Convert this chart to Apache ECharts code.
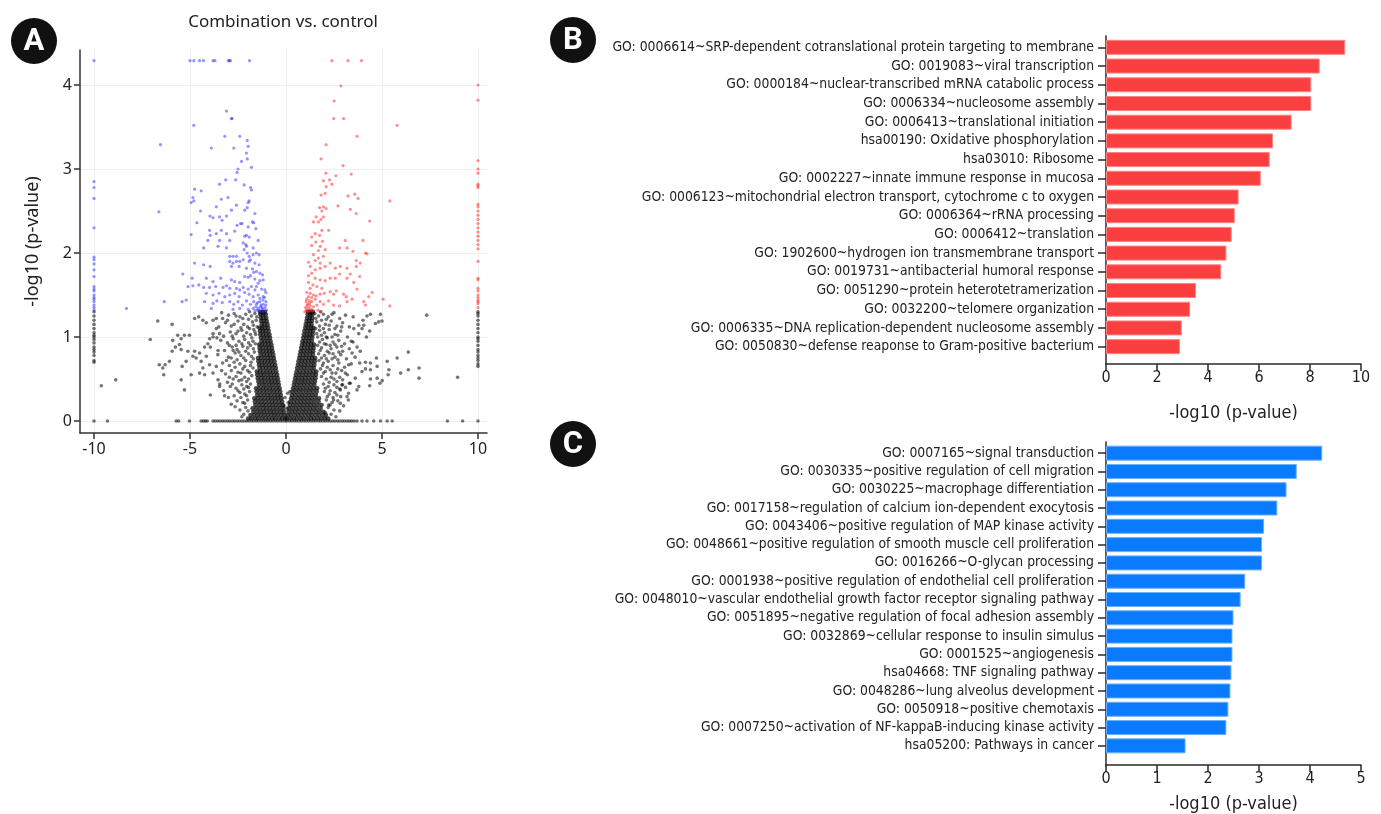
<!DOCTYPE html>
<html><head><meta charset="utf-8">
<script src="https://cdn.jsdelivr.net/npm/echarts@6/dist/echarts.min.js"></script>
<style>html,body{margin:0;padding:0;background:#fff}#c{width:1381px;height:814px}</style>
</head><body><div id="c"></div>
<script>
// ---------- Panel A: volcano plot ----------
const volcanoTitle = 'Combination vs. control';
const volcanoXTicks = [-10, -5, 0, 5, 10];
const volcanoYTicks = [0, 1, 2, 3, 4];

// up-regulated (blue, left)
const bluePoints = [
[-10,4.29],[-5.0,4.29],[-4.8,4.29],[-4.5,4.29],[-4.3,4.29],[-3.8,4.29],[-3.7,4.29],[-3.0,4.29],[-2.95,4.29],[-2.9,4.29],[-1.9,4.29],
[-10,2.85],[-10,2.78],[-10,2.65],[-10,2.3],[-10,1.95],[-10,1.92],[-10,1.87],[-10,1.8],[-10,1.72],[-10,1.6],[-10,1.57],[-10,1.55],[-10,1.5],[-10,1.47],[-10,1.45],[-10,1.42],[-10,1.38],[-10,1.35],[-10,1.32],
[-3.1,3.69],[-2.84,3.6],[-2.81,3.6],[-4.8,3.52],[-3.19,3.39],[-2.41,3.39],[-2.02,3.34],[-1.97,3.27],[-3.89,3.25],[-2.72,3.25],[-6.54,3.29],
[-2.06,3.19],[-2.32,3.09],[-2.02,3.12],[-1.8,3.02],[-2.5,3.0],[-2.55,2.96],[-3.14,2.87],[-2.62,2.87],[-3.46,2.82],[-2.18,2.81],[-1.85,2.78],[-1.8,2.75],
[-4.76,2.76],[-4.42,2.74],[-4.85,2.66],[-4.8,2.62],[-3.02,2.66],[-3.37,2.64],[-4.94,2.6],[-2.58,2.57],[-1.97,2.6],[-2.02,2.54],[-2.15,2.51],[-1.92,2.62],
[-1.62,2.47],[-3.63,2.55],[-4.45,2.5],[-2.84,2.51],[-3.96,2.44],[-3.8,2.42],[-3.46,2.43],[-3.33,2.39],[-3.1,2.44],[-4.64,2.36],[-6.62,2.49],
[-2.37,2.35],[-2.29,2.35],[-2.55,2.33],[-1.97,2.31],[-1.75,2.37],[-1.68,2.36],[-1.57,2.29],[-4.94,2.22],[-3.98,2.27],[-3.95,2.21],[-3.63,2.23],
[-3.37,2.27],[-3.1,2.23],[-2.67,2.26],[-2.06,2.21],[-2.15,2.2],[-1.92,2.19],[-4.07,2.15],[-3.46,2.15],[-2.93,2.15],[-1.45,2.15],
[-2.23,2.12],[-2.09,2.1],[-2.06,2.08],[-4.29,2.06],[-3.54,2.08],[-3.1,2.06],[-1.71,2.06],[-1.54,2.0],[-2.18,2.04],[-2.02,2.0],[-1.71,1.98],[-1.92,1.96],
[-1.4,1.98],[-2.93,1.96],[-2.76,1.96],[-2.58,1.96],[-2.41,1.9],[-2.23,1.92],[-1.92,1.9],[-1.85,1.92],[-4.76,1.88],[-4.29,1.86],[-3.95,1.84],
[-2.93,1.9],[-2.76,1.88],[-2.58,1.9],[-2.84,1.84],[-1.62,1.88],[-1.4,1.86],[-2.44,1.84],[-2.06,1.82],[-1.75,1.81],[-5.38,1.75],
[-1.68,1.77],[-1.54,1.78],[-1.36,1.76],[-1.22,1.74],[-2.15,1.72],[-1.97,1.71],[-1.85,1.73],[-4.89,1.7],[-4.15,1.7],[-3.8,1.66],[-3.4,1.7],
[-2.84,1.68],[-2.67,1.66],[-2.41,1.65],[-1.62,1.69],[-1.36,1.67],[-1.19,1.68],[-1.45,1.64],[-5.1,1.6],[-4.85,1.61],
[-4.54,1.62],[-4.29,1.59],[-3.98,1.59],[-3.66,1.6],[-3.28,1.59],[-3.1,1.61],[-2.93,1.58],[-2.58,1.58],[-2.41,1.56],[-2.23,1.59],[-1.97,1.57],[-1.8,1.6],
[-1.54,1.6],[-1.27,1.57],[-1.1,1.56],[-1.62,1.56],[-4.15,1.52],[-3.8,1.5],[-3.49,1.52],[-3.19,1.48],[-2.93,1.5],[-2.67,1.52],[-2.44,1.48],
[-2.15,1.53],[-1.92,1.51],[-1.71,1.48],[-1.45,1.5],[-1.36,1.46],[-1.19,1.48],[-1.05,1.53],[-5.41,1.42],[-5.2,1.44],[-6.34,1.42],[-8.31,1.34],
[-4.24,1.42],[-3.8,1.4],[-3.6,1.43],[-3.32,1.41],[-2.93,1.42],[-2.72,1.39],[-2.5,1.42],[-2.27,1.38],[-2.06,1.43],
[-1.85,1.39],[-1.68,1.42],[-1.54,1.39],[-1.36,1.42],[-1.19,1.39],[-1.05,1.42],
[-1.57,1.36],[-1.45,1.34],[-1.33,1.36],[-1.22,1.33],[-1.1,1.35],[-1.01,1.32],[-1.5,1.32],[-1.27,1.3],[-1.15,1.3],[-1.71,1.34],[-1.4,1.31],[-1.05,1.38],
[-1.97,1.33],[-3.89,1.34],[-2.76,1.33],[-2.41,1.34],[-1.3,1.38],[-1.2,1.44],[-1.48,1.41],[-1.62,1.31],[-1.12,1.47],[-1.25,1.35]
];

// down-regulated (red, right)
const redPoints = [
[2.39,4.29],[3.23,4.29],[3.93,4.29],
[10,4.0],[10,3.82],[10,3.1],[10,3.0],[10,2.95],[10,2.82],[10,2.8],[10,2.78],[10,2.58],[10,2.55],[10,2.5],[10,2.45],[10,2.4],[10,2.35],[10,2.3],
[10,2.25],[10,2.2],[10,2.15],[10,2.1],[10,2.05],[10,1.9],[10,1.7],[10,1.68],[10,1.58],[10,1.55],[10,1.5],[10,1.47],[10,1.44],[10,1.42],[10,1.4],[10,1.35],
[2.86,3.99],[2.51,3.81],[2.48,3.6],[3.0,3.6],[5.79,3.52],[3.7,3.39],[2.09,3.29],[1.83,3.12],[2.97,3.04],[3.4,2.94],[2.08,2.95],[2.6,2.92],
[2.27,2.87],[1.95,2.86],[2.39,2.82],[2.09,2.79],[3.23,2.68],[3.58,2.7],[3.75,2.65],[2.04,2.71],[1.83,2.69],[5.41,2.62],[2.71,2.56],
[1.75,2.54],[1.95,2.55],[2.09,2.53],[1.87,2.5],[3.35,2.52],[3.66,2.47],[4.36,2.38],[1.57,2.43],[1.82,2.4],[1.95,2.43],[1.69,2.37],[1.43,2.37],
[2.22,2.27],[1.87,2.27],[1.75,2.21],[1.52,2.23],[1.34,2.19],[3.09,2.15],[4.01,2.15],[1.9,2.14],[1.55,2.13],[1.34,2.09],[1.78,2.08],
[2.79,2.06],[3.18,2.06],[2.04,2.04],[1.69,2.03],[3.49,2.02],[4.14,2.0],[4.22,1.99],[1.43,1.98],[1.69,1.94],[1.95,1.96],[1.52,1.91],[1.17,1.89],[1.78,1.88],
[3.66,1.91],[3.87,1.88],[3.66,1.84],[2.3,1.88],[2.57,1.82],[2.83,1.84],[1.26,1.84],[1.52,1.8],[1.78,1.82],[2.04,1.84],[1.34,1.76],[1.17,1.73],
[3.18,1.82],[2.79,1.75],[3.35,1.75],[3.84,1.72],[1.52,1.7],[1.78,1.68],[2.04,1.67],[2.3,1.7],[2.57,1.7],[3.18,1.7],
[1.17,1.65],[1.4,1.62],[1.61,1.6],[1.87,1.58],[1.26,1.58],[3.53,1.65],[3.7,1.57],
[1.08,1.53],[1.26,1.52],[1.43,1.5],[1.17,1.48],[1.34,1.47],[1.57,1.49],[1.78,1.51],[1.99,1.52],[2.3,1.54],[2.48,1.51],[2.62,1.55],[3.0,1.51],[3.14,1.48],
[4.49,1.53],[4.31,1.48],[5.06,1.45],[5.41,1.37],
[1.08,1.45],[1.22,1.43],[1.34,1.42],[1.52,1.45],[1.12,1.39],[1.26,1.37],[1.43,1.36],[1.61,1.38],[1.78,1.42],[1.95,1.39],[2.22,1.43],[2.48,1.38],[2.79,1.37],
[3.18,1.42],[3.44,1.45],[4.05,1.42],[4.14,1.38],
[1.05,1.32],[1.15,1.3],[0.98,1.3],[1.27,1.31],[1.1,1.37],[1.22,1.4],[1.05,1.42],[1.4,1.31],[1.66,1.32],[1.83,1.3],[1.02,1.35],[1.18,1.34],[1.32,1.33],[1.12,1.31]
];

// not significant (black), scattered
const blackSparse = [
[-10,1.3],[-10,1.25],[-10,1.2],[-10,1.15],[-10,1.1],[-10,1.05],[-10,1.02],[-10,1.0],[-10,0.97],[-10,0.93],[-10,0.88],[-10,0.85],[-10,0.82],[-10,0.78],[-10,0.72],[-10,0.7],
[10,1.3],[10,1.28],[10,1.25],[10,1.2],[10,1.15],[10,1.1],[10,1.05],[10,1.0],[10,0.98],[10,0.95],[10,0.9],[10,0.85],[10,0.82],[10,0.78],[10,0.75],[10,0.72],[10,0.68],[10,0.65],
[-6.68,1.19],[-5.93,1.15],[-7.07,0.97],[-5.9,0.96],[-5.64,1.02],[-5.46,0.98],[-5.29,1.02],[-5.03,1.02],[-5.76,0.88],[-5.93,0.83],[-5.46,0.85],[-5.55,0.91],
[-5.11,0.83],[-4.85,0.77],[-5.2,0.71],[-6.6,0.67],[-6.42,0.63],[-6.3,0.67],[-6.07,0.71],[-6.37,0.55],[-5.41,0.65],[-5.46,0.49],[-5.29,0.37],[-8.87,0.49],[-9.62,0.42],
[-4.94,0.55],[-4.5,0.57],[-4.33,0.63],[-4.24,0.55],[-4.5,0.81],[-4.24,0.88],[-4.07,0.92],[-3.98,0.98],[-3.8,1.0],[-4.76,0.83],[-4.68,0.75],[-4.42,0.71],[-4.15,0.77],[-3.98,0.67],
[-4.55,1.24],[-4.76,1.22],[-4.33,1.2],[-4.15,1.17],[-3.8,1.2],[-3.63,1.22],[-3.63,1.1],[-3.8,1.04],[-3.46,1.04],[-3.94,0.88],[-3.54,0.84],[-3.94,0.31],
[-3.8,0.57],[-3.54,0.49],[-3.46,0.41],[-3.63,0.65],
[7.33,1.26],[4.4,1.27],[4.92,1.27],[4.83,1.18],[5.0,1.19],[4.66,1.16],[4.22,1.25],[4.01,1.2],[3.79,1.14],[3.96,1.1],[3.53,1.1],[4.05,1.14],[4.36,1.07],[4.19,1.0],[3.79,1.04],
[3.49,0.94],[3.7,0.88],[3.44,0.81],[3.87,0.83],[6.37,0.82],[5.79,0.75],[5.27,0.71],[4.71,0.75],[4.4,0.69],[4.75,0.65],[4.14,0.7],[3.84,0.69],[4.14,0.62],[4.4,0.61],[3.96,0.59],
[6.93,0.63],[6.37,0.61],[5.36,0.61],[5.32,0.55],[6.93,0.51],[5.97,0.57],[8.94,0.52],[4.4,0.5],[4.75,0.51],[5.01,0.48],[4.89,0.45],[4.36,0.42],
[3.61,0.51],[3.79,0.41],[3.26,0.33],[3.18,0.29],[3.7,0.37],[3.26,0.67],[3.09,0.57],[3.35,0.45],[2.91,0.43],[2.83,0.37],[2.65,0.31],[2.48,0.25],[2.83,0.21],[2.22,0.19],
[-0.05,0.28],[0.08,0.33],[0.12,0.22],[-0.1,0.18],[0.2,0.35],[0.05,0.15],
// left medium-density field
[-1.62,1.28],[-1.8,1.25],[-2.1,1.27],[-2.4,1.24],[-2.7,1.28],[-3.0,1.26],[-3.3,1.22],[-1.55,1.2],[-1.75,1.18],[-1.95,1.21],[-2.2,1.15],[-2.5,1.19],[-2.85,1.13],[-3.15,1.17],[-3.5,1.12],
[-1.5,1.12],[-1.68,1.09],[-1.9,1.1],[-2.05,1.05],[-2.3,1.08],[-2.6,1.04],[-2.9,1.06],[-3.25,1.01],[-1.58,1.03],[-1.78,0.99],[-2.15,0.97],[-2.45,0.95],[-2.75,0.98],[-3.05,0.93],[-3.4,0.96],
[-1.6,0.92],[-1.85,0.9],[-2.0,0.87],[-2.25,0.89],[-2.55,0.85],[-2.8,0.88],[-3.2,0.84],[-1.65,0.82],[-1.95,0.8],[-2.35,0.78],[-2.65,0.81],[-3.0,0.76],[-3.55,0.79],
[-1.7,0.74],[-1.82,0.7],[-2.1,0.72],[-2.4,0.68],[-2.7,0.7],[-2.95,0.66],[-3.3,0.69],[-1.72,0.63],[-2.0,0.6],[-2.25,0.62],[-2.5,0.58],[-2.85,0.6],[-3.15,0.56],
[-1.78,0.54],[-1.95,0.5],[-2.15,0.52],[-2.45,0.48],[-2.75,0.5],[-3.05,0.46],[-3.45,0.44],[-1.85,0.44],[-2.05,0.41],[-2.3,0.43],[-2.6,0.39],[-2.9,0.41],[-3.25,0.36],
[-1.9,0.35],[-2.15,0.32],[-2.4,0.34],[-2.7,0.3],[-3.0,0.28],[-2.0,0.25],[-2.25,0.22],[-2.55,0.24],[-2.85,0.2],[-2.1,0.16],[-2.4,0.13],[-2.2,0.08],
[-1.52,1.24],[-1.9,1.3],[-2.25,1.22],[-2.6,1.25],[-1.7,1.14],[-2.0,1.12],[-2.35,1.11],[-2.7,1.15],[-3.05,1.2],[-1.62,1.06],[-1.85,1.03],[-2.2,1.01],[-2.5,1.07],[-2.8,1.01],
[-1.72,0.95],[-1.95,0.93],[-2.3,0.92],[-2.6,0.9],[-2.95,0.9],[-1.7,0.86],[-2.1,0.83],[-2.45,0.82],[-2.75,0.84],[-1.8,0.77],[-2.2,0.75],[-2.55,0.73],[-2.85,0.75],
[-1.85,0.66],[-2.15,0.65],[-2.35,0.57],[-2.65,0.64],[-1.9,0.58],[-2.05,0.47],[-2.3,0.49],[-2.6,0.53],[-1.95,0.4],[-2.2,0.38],[-2.5,0.36],[-2.8,0.44],[-2.05,0.3],[-2.35,0.28],
[-2.15,0.21],[-1.98,0.12],[-2.3,0.05],[-3.35,1.29],[-3.6,0.99],[-3.1,0.72],[-3.35,0.6],[-2.95,0.52],[-3.2,0.3],[-2.65,0.17],
// right medium-density field
[1.5,1.28],[1.7,1.25],[1.95,1.27],[2.2,1.24],[2.5,1.29],[2.8,1.22],[3.1,1.26],[1.6,1.18],[1.85,1.2],[2.05,1.15],[2.35,1.19],[2.65,1.13],[2.95,1.17],[3.3,1.12],
[1.55,1.1],[1.75,1.08],[2.0,1.05],[2.25,1.09],[2.55,1.03],[2.85,1.07],[3.2,1.0],[1.65,1.0],[1.9,0.97],[2.15,0.99],[2.45,0.94],[2.75,0.96],[3.05,0.92],[3.4,0.95],
[1.65,0.9],[1.85,0.87],[2.1,0.91],[2.35,0.86],[2.65,0.88],[2.95,0.83],[3.3,0.86],[1.7,0.8],[2.0,0.78],[2.25,0.81],[2.55,0.76],[2.85,0.79],[3.15,0.74],
[1.72,0.72],[1.95,0.69],[2.2,0.71],[2.45,0.66],[2.75,0.69],[3.05,0.64],[3.4,0.68],[1.8,0.62],[2.05,0.59],[2.3,0.61],[2.6,0.57],[2.9,0.6],[3.2,0.55],
[1.85,0.53],[2.1,0.5],[2.35,0.52],[2.65,0.47],[2.95,0.49],[3.3,0.45],[1.95,0.44],[2.2,0.41],[2.5,0.43],[2.8,0.38],[3.1,0.4],
[2.0,0.35],[2.25,0.32],[2.55,0.34],[2.85,0.29],[2.1,0.25],[2.4,0.22],[2.7,0.24],[2.2,0.16],[2.5,0.13],[2.35,0.08],
[1.55,1.22],[1.8,1.3],[2.1,1.21],[2.4,1.27],[1.75,1.13],[1.95,1.1],[2.25,1.14],[2.55,1.1],[2.9,1.12],[1.6,1.04],[1.85,1.02],[2.1,1.0],[2.4,1.0],[2.7,1.02],
[1.75,0.94],[2.0,0.92],[2.3,0.9],[2.55,0.91],[2.9,0.89],[1.78,0.84],[2.15,0.83],[2.45,0.8],[2.75,0.82],[1.85,0.75],[2.1,0.74],[2.4,0.74],[2.7,0.73],
[1.9,0.66],[2.15,0.64],[2.4,0.57],[2.7,0.62],[1.95,0.57],[2.25,0.46],[2.5,0.5],[2.8,0.52],[2.05,0.39],[2.3,0.36],[2.65,0.4],[2.95,0.43],[2.15,0.29],[2.45,0.28],
[2.3,0.19],[2.05,0.1],[2.6,0.05],[3.5,1.24],[3.6,0.76],[3.25,0.25],[3.0,0.18],[2.8,0.12]
];

// dense core of the "V": rows of [y, x values]
const blackCoreRows = [
[0.03,[-0.04,-0.21,-0.37,-0.56,-0.72,-0.9,-1.07,-1.25,-1.44,-1.61,-1.8,-1.97, 0.05,0.23,0.4,0.57,0.76,0.93,1.12,1.3,1.47,1.66,1.84,2.03,2.2]],
[0.07,[-0.08,-0.25,-0.43,-0.6,-0.77,-0.95,-1.13,-1.31,-1.48,-1.66,-1.85, 0.09,0.26,0.45,0.63,0.8,0.99,1.17,1.34,1.53,1.71,1.9,2.08]],
[0.11,[-0.11,-0.28,-0.46,-0.64,-0.8,-0.98,-1.16,-1.33,-1.51,-1.7, 0.13,0.31,0.48,0.66,0.85,1.02,1.2,1.38,1.57,1.75,1.95]],
[0.15,[-0.14,-0.31,-0.49,-0.66,-0.84,-1.02,-1.19,-1.37,-1.55,-1.74, 0.16,0.34,0.52,0.7,0.88,1.06,1.24,1.42,1.6,1.8]],
[0.19,[-0.17,-0.34,-0.52,-0.7,-0.87,-1.05,-1.22,-1.4,-1.6, 0.2,0.38,0.56,0.74,0.92,1.1,1.28,1.46,1.65,1.85]],
[0.23,[-0.2,-0.37,-0.55,-0.72,-0.9,-1.08,-1.26,-1.44,-1.62, 0.23,0.41,0.59,0.77,0.95,1.13,1.31,1.5,1.7]],
[0.27,[-0.24,-0.41,-0.58,-0.76,-0.93,-1.11,-1.29,-1.47,-1.65, 0.27,0.44,0.62,0.8,0.98,1.16,1.34,1.53,1.72]],
[0.31,[-0.27,-0.44,-0.61,-0.79,-0.96,-1.14,-1.32,-1.5, 0.3,0.48,0.66,0.84,1.02,1.2,1.38,1.56]],
[0.35,[-0.3,-0.47,-0.64,-0.82,-1.0,-1.17,-1.35,-1.53, 0.34,0.51,0.69,0.87,1.05,1.23,1.41,1.6]],
[0.39,[-0.33,-0.5,-0.68,-0.85,-1.03,-1.2,-1.38,-1.56, 0.37,0.55,0.72,0.9,1.08,1.26,1.44,1.62]],
[0.43,[-0.37,-0.54,-0.71,-0.88,-1.06,-1.23,-1.41, 0.41,0.58,0.76,0.94,1.12,1.3,1.48]],
[0.47,[-0.4,-0.57,-0.74,-0.91,-1.09,-1.26,-1.44, 0.44,0.62,0.8,0.97,1.15,1.33,1.51]],
[0.51,[-0.43,-0.6,-0.77,-0.94,-1.12,-1.29,-1.47, 0.48,0.65,0.83,1.0,1.18,1.36,1.54]],
[0.55,[-0.46,-0.63,-0.8,-0.97,-1.15,-1.32,-1.5, 0.51,0.69,0.86,1.04,1.21,1.39,1.56]],
[0.59,[-0.5,-0.67,-0.84,-1.01,-1.18,-1.35,-1.52, 0.55,0.72,0.9,1.07,1.25,1.42,1.58]],
[0.63,[-0.53,-0.7,-0.87,-1.04,-1.21,-1.38, 0.58,0.76,0.93,1.1,1.28,1.45]],
[0.67,[-0.56,-0.73,-0.9,-1.07,-1.24,-1.41, 0.62,0.79,0.96,1.13,1.31,1.48]],
[0.71,[-0.6,-0.77,-0.93,-1.1,-1.27,-1.44, 0.65,0.82,0.99,1.16,1.33,1.5]],
[0.75,[-0.63,-0.8,-0.96,-1.13,-1.3,-1.46, 0.69,0.86,1.03,1.2,1.36,1.52]],
[0.79,[-0.66,-0.83,-0.99,-1.16,-1.33, 0.72,0.89,1.06,1.23,1.4]],
[0.83,[-0.7,-0.86,-1.02,-1.19,-1.36, 0.76,0.92,1.09,1.26,1.42]],
[0.87,[-0.73,-0.89,-1.05,-1.22,-1.38, 0.79,0.95,1.12,1.28,1.44]],
[0.91,[-0.76,-0.92,-1.08,-1.25,-1.4, 0.83,0.99,1.15,1.31,1.46]],
[0.95,[-0.8,-0.96,-1.12,-1.28, 0.86,1.02,1.18,1.34]],
[0.99,[-0.83,-0.99,-1.15,-1.31, 0.9,1.06,1.21,1.37]],
[1.03,[-0.86,-1.02,-1.18,-1.34, 0.93,1.09,1.24,1.39]],
[1.07,[-0.9,-1.06,-1.21,-1.36, 0.96,1.12,1.27,1.41]],
[1.11,[-0.93,-1.09,-1.24,-1.38, 1.0,1.15,1.3,1.43]],
[1.15,[-0.96,-1.12,-1.27, 1.03,1.18,1.33]],
[1.19,[-1.0,-1.15,-1.3, 1.07,1.21,1.35]],
[1.23,[-1.03,-1.18,-1.32, 1.1,1.24,1.37]],
[1.27,[-1.06,-1.2,-1.34, 1.13,1.26,1.38]],
[1.3,[-1.1,-1.22,-1.35, 1.15,1.28,1.4]]
];

// points lying on -log10(p) = 0
const blackZeroX = [-10,-9.3,-5.72,-5.59,-5.03,-4.42,-4.3,-4.2,-4.1,
-3.8,-3.68,-3.55,-3.43,-3.3,-3.18,-3.05,-2.93,-2.8,-2.68,-2.55,-2.43,-2.3,-2.18,-2.05,-1.93,-1.8,-1.68,-1.55,-1.43,-1.3,-1.18,-1.05,-0.93,-0.8,-0.68,-0.55,-0.43,-0.3,-0.18,-0.05,
0.05,0.18,0.3,0.43,0.55,0.68,0.8,0.93,1.05,1.18,1.3,1.43,1.55,1.68,1.8,1.93,2.05,2.18,2.3,2.43,2.55,2.68,2.8,2.93,3.05,3.18,3.3,3.42,
3.55,3.7,3.96,4.22,4.57,4.92,5.27,5.53,8.41,9.2,10];

// ---------- Panel B ----------
const catsB = [
'GO: 0006614~SRP-dependent cotranslational protein targeting to membrane',
'GO: 0019083~viral transcription',
'GO: 0000184~nuclear-transcribed mRNA catabolic process',
'GO: 0006334~nucleosome assembly',
'GO: 0006413~translational initiation',
'hsa00190: Oxidative phosphorylation',
'hsa03010: Ribosome',
'GO: 0002227~innate immune response in mucosa',
'GO: 0006123~mitochondrial electron transport, cytochrome c to oxygen',
'GO: 0006364~rRNA processing',
'GO: 0006412~translation',
'GO: 1902600~hydrogen ion transmembrane transport',
'GO: 0019731~antibacterial humoral response',
'GO: 0051290~protein heterotetramerization',
'GO: 0032200~telomere organization',
'GO: 0006335~DNA replication-dependent nucleosome assembly',
'GO: 0050830~defense reaponse to Gram-positive bacterium'
];
const valuesB = [9.38, 8.38, 8.05, 8.05, 7.28, 6.55, 6.42, 6.07, 5.2, 5.05, 4.93, 4.72, 4.52, 3.53, 3.3, 2.97, 2.9];
const ticksB = [0, 2, 4, 6, 8, 10];

// ---------- Panel C ----------
const catsC = [
'GO: 0007165~signal transduction',
'GO: 0030335~positive regulation of cell migration',
'GO: 0030225~macrophage differentiation',
'GO: 0017158~regulation of calcium ion-dependent exocytosis',
'GO: 0043406~positive regulation of MAP kinase activity',
'GO: 0048661~positive regulation of smooth muscle cell proliferation',
'GO: 0016266~O-glycan processing',
'GO: 0001938~positive regulation of endothelial cell proliferation',
'GO: 0048010~vascular endothelial growth factor receptor signaling pathway',
'GO: 0051895~negative regulation of focal adhesion assembly',
'GO: 0032869~cellular response to insulin simulus',
'GO: 0001525~angiogenesis',
'hsa04668: TNF signaling pathway',
'GO: 0048286~lung alveolus development',
'GO: 0050918~positive chemotaxis',
'GO: 0007250~activation of NF-kappaB-inducing kinase activity',
'hsa05200: Pathways in cancer'
];
const valuesC = [4.24, 3.74, 3.54, 3.36, 3.1, 3.06, 3.06, 2.73, 2.64, 2.5, 2.48, 2.48, 2.46, 2.44, 2.4, 2.36, 1.56];
const ticksC = [0, 1, 2, 3, 4, 5];

const axisName = '-log10 (p-value)';
const panelLetters = ['A', 'B', 'C'];

// ---------- build ----------
const blackPoints = blackSparse.slice();
blackZeroX.forEach(x => blackPoints.push([x, 0]));
const blackCorePoints = [];
blackCoreRows.forEach(r => r[1].forEach(x => blackCorePoints.push([x, r[0]])));

const FONT_A = "'Noto Sans', 'DejaVu Sans', sans-serif";
const FONT_B = "'Liberation Sans Narrow', 'DejaVu Sans Condensed', 'Roboto', sans-serif";
const axisColor = '#2a2a2a';

const chart = echarts.init(document.getElementById('c'), null, {renderer: 'canvas'});

function badge(cx, cy, letter) {
  return [
    {type: 'circle', shape: {cx: cx, cy: cy, r: 23}, style: {fill: '#111'}, z: 100},
    {type: 'text', x: cx, y: cy + 1, z: 101, style: {text: letter, fill: '#fff', stroke: '#111', lineWidth: 1,
      font: "bold 31px 'Roboto', 'DejaVu Sans', sans-serif", textAlign: 'center', textVerticalAlign: 'middle'}}
  ];
}

const scatterBase = {type: 'scatter', xAxisIndex: 0, yAxisIndex: 0, symbolSize: 3.2, silent: true, animation: false};
const catLabel = {color: '#222', fontSize: 13.8, margin: 12, fontFamily: FONT_B, interval: 0};

const option = {
  animation: false,
  backgroundColor: '#ffffff',
  graphic: [].concat(
    badge(34, 41, panelLetters[0]), badge(573, 40, panelLetters[1]), badge(573, 444, panelLetters[2]),
    [{type: 'text', x: 283, y: 22, style: {text: volcanoTitle, fill: '#222', font: "17px " + FONT_A,
      textAlign: 'center', textVerticalAlign: 'middle'}}]
  ),
  grid: [
    {left: 80, top: 50, width: 407, height: 383},
    {left: 1106, top: 38, width: 255, height: 318},
    {left: 1106, top: 36, width: 255, height: 328},
    {left: 1106, top: 444, width: 255, height: 312},
    {left: 1106, top: 442, width: 255, height: 324}
  ],
  xAxis: [
    {gridIndex: 0, type: 'value', min: -10.73, max: 10.47,
      axisLine: {onZero: false, lineStyle: {color: '#333', width: 1.5}},
      axisTick: {show: true, length: 6, lineStyle: {color: '#333', width: 1.5}, customValues: volcanoXTicks},
      axisLabel: {customValues: volcanoXTicks, color: '#222', fontSize: 16, margin: 8, fontFamily: FONT_A},
      splitLine: {show: true, lineStyle: {color: '#eeeeee', width: 1}}},
    {gridIndex: 1, type: 'value', min: 0, max: 10, interval: 2, offset: 8,
      axisLine: {show: true, onZero: false, lineStyle: {color: axisColor, width: 1.5}},
      axisTick: {show: true, length: 7, lineStyle: {color: axisColor, width: 1.5}},
      axisLabel: {color: '#222', fontSize: 16, margin: 6, fontFamily: FONT_B},
      splitLine: {show: false},
      name: axisName, nameLocation: 'middle', nameGap: 40,
      nameTextStyle: {color: '#222', fontSize: 18, fontFamily: FONT_B}},
    {gridIndex: 2, type: 'value', show: false, min: 0, max: 10},
    {gridIndex: 3, type: 'value', min: 0, max: 5, interval: 1, offset: 10,
      axisLine: {show: true, onZero: false, lineStyle: {color: axisColor, width: 1.5}},
      axisTick: {show: true, length: 7, lineStyle: {color: axisColor, width: 1.5}},
      axisLabel: {color: '#222', fontSize: 16, margin: 6, fontFamily: FONT_B},
      splitLine: {show: false},
      name: axisName, nameLocation: 'middle', nameGap: 30,
      nameTextStyle: {color: '#222', fontSize: 18, fontFamily: FONT_B}},
    {gridIndex: 4, type: 'value', show: false, min: 0, max: 5}
  ],
  yAxis: [
    {gridIndex: 0, type: 'value', min: -0.143, max: 4.417,
      name: axisName, nameLocation: 'middle', nameGap: 38, nameRotate: 90,
      nameTextStyle: {color: '#222', fontSize: 18, fontFamily: FONT_A},
      axisLine: {show: true, onZero: false, lineStyle: {color: '#333', width: 1.5}},
      axisTick: {show: true, length: 6, lineStyle: {color: '#333', width: 1.5}, customValues: volcanoYTicks},
      axisLabel: {customValues: volcanoYTicks, color: '#222', fontSize: 16, margin: 8, fontFamily: FONT_A},
      splitLine: {show: true, lineStyle: {color: '#eeeeee', width: 1}}},
    {gridIndex: 1, type: 'category', data: catsB, inverse: true,
      axisLine: {show: false},
      axisTick: {show: true, alignWithLabel: true, length: 8, lineStyle: {color: axisColor, width: 1.5}},
      axisLabel: catLabel},
    {gridIndex: 2, type: 'value', min: 0, max: 1,
      axisLine: {show: true, onZero: false, lineStyle: {color: axisColor, width: 1.5}},
      axisTick: {show: false}, axisLabel: {show: false}, splitLine: {show: false}},
    {gridIndex: 3, type: 'category', data: catsC, inverse: true,
      axisLine: {show: false},
      axisTick: {show: true, alignWithLabel: true, length: 8, lineStyle: {color: axisColor, width: 1.5}},
      axisLabel: catLabel},
    {gridIndex: 4, type: 'value', min: 0, max: 1,
      axisLine: {show: true, onZero: false, lineStyle: {color: axisColor, width: 1.5}},
      axisTick: {show: false}, axisLabel: {show: false}, splitLine: {show: false}}
  ],
  series: [
    Object.assign({}, scatterBase, {name: 'ns', data: blackPoints, symbolSize: 3.6, itemStyle: {color: 'rgba(0,0,0,0.68)'}}),
    Object.assign({}, scatterBase, {name: 'ns-core', data: blackCorePoints, symbolSize: 4.6, itemStyle: {color: 'rgba(0,0,0,0.88)'}}),
    Object.assign({}, scatterBase, {name: 'blue', data: bluePoints, itemStyle: {color: 'rgba(40,40,255,0.62)'}}),
    Object.assign({}, scatterBase, {name: 'red', data: redPoints, itemStyle: {color: 'rgba(255,30,30,0.62)'}}),
    {type: 'bar', xAxisIndex: 1, yAxisIndex: 1, data: valuesB, barWidth: 15, silent: true,
      itemStyle: {color: '#f93f40', borderColor: '#fb8485', borderWidth: 1}},
    {type: 'bar', xAxisIndex: 3, yAxisIndex: 3, data: valuesC, barWidth: 15, silent: true,
      itemStyle: {color: '#0a7bff', borderColor: '#6aaeff', borderWidth: 1}}
  ]
};
chart.setOption(option);
</script>
</body></html>
